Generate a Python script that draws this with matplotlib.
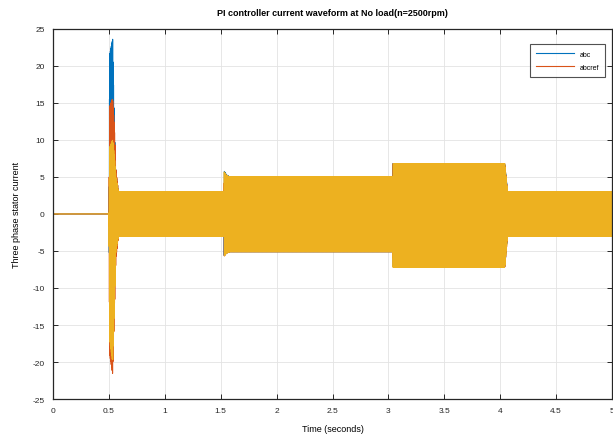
import numpy as np
import matplotlib.pyplot as plt

plt.rcParams['font.family'] = ['Liberation Sans', 'DejaVu Sans']
plt.rcParams['axes.unicode_minus'] = False

# carrier frequency used for drawing the phase currents (Hz)
f_elec = 250.0

# envelope breakpoints of the stator currents (seconds)
env_t = [0.0, 0.4999, 0.5, 0.507, 0.533, 0.548, 0.562, 0.585,
         1.53, 1.531, 1.55, 1.58, 3.04, 3.041, 4.04, 4.065, 5.0]

# upper / lower envelopes per phase (A)
up_a = [0, 0, 0, 21.5, 23.6, 12.0, 5.5, 3.0,
        3.0, 5.8, 5.3, 5.0, 5.0, 6.8, 6.8, 3.0, 3.0]
lo_a = [0, 0, 0, -12.0, -14.0, -8.0, -4.5, -3.0,
        -3.0, -5.6, -5.3, -5.1, -5.1, -7.1, -7.1, -3.0, -3.0]
up_b = [0, 0, 0, 14.5, 15.6, 12.0, 6.0, 3.0,
        3.0, 5.6, 5.2, 5.0, 5.0, 6.8, 6.8, 3.0, 3.0]
lo_b = [0, 0, 0, -19.0, -21.6, -14.0, -6.0, -3.0,
        -3.0, -5.7, -5.3, -5.1, -5.1, -7.2, -7.2, -3.0, -3.0]
up_c = [0, 0, 0, 9.0, 10.0, 8.0, 5.0, 3.0,
        3.0, 5.7, 5.2, 5.0, 5.0, 6.8, 6.8, 3.0, 3.0]
lo_c = [0, 0, 0, -17.0, -20.0, -13.0, -5.0, -3.0,
        -3.0, -5.7, -5.3, -5.1, -5.1, -7.2, -7.2, -3.0, -3.0]

labels = ['abc', 'abcref']
colors = ['#0072BD', '#D95319', '#EDB120']

t = np.linspace(0, 5, 400001)


def phase_current(up, lo, shift):
    hi = np.interp(t, env_t, up)
    low = np.interp(t, env_t, lo)
    mid = (hi + low) / 2
    half = (hi - low) / 2
    return mid + half * np.sin(2 * np.pi * f_elec * t - shift)


currents = [
    phase_current(up_a, lo_a, 0.0),
    phase_current(up_b, lo_b, 2 * np.pi / 3),
    phase_current(up_c, lo_c, 4 * np.pi / 3),
]

fig = plt.figure(figsize=(6.13, 4.39), dpi=100)
ax = fig.add_axes([0.0865, 0.0888, 0.912, 0.843])

for i, (cur, col) in enumerate(zip(currents, colors)):
    ax.plot(t, cur, color=col, linewidth=0.8,
            label=labels[i] if i < len(labels) else None)

ax.set_xlim(0, 5)
ax.set_ylim(-25, 25)
ax.set_xticks(np.arange(0, 5.01, 0.5))
ax.set_xticklabels(['0', '0.5', '1', '1.5', '2', '2.5', '3', '3.5', '4', '4.5', '5'])
ax.set_yticks(np.arange(-25, 26, 5))
ax.grid(True, color='#e3e3e3', linewidth=0.6)
ax.set_axisbelow(True)
ax.tick_params(direction='in', length=3.5, width=0.7, labelsize=6,
               top=True, right=True, colors='#262626', pad=6)
for sp in ax.spines.values():
    sp.set_linewidth(0.9)
    sp.set_color('#262626')

ax.set_title('PI controller current waveform at No load(n=2500rpm)',
             fontsize=6.5, fontweight='bold', pad=10)
ax.set_xlabel('Time (seconds)', fontsize=6.5, labelpad=7)
ax.set_ylabel('Three phase stator current', fontsize=6.5, labelpad=8)

leg = ax.legend(loc='upper right', bbox_to_anchor=(0.994, 0.968), fontsize=5,
                handlelength=5.5, frameon=True, fancybox=False,
                edgecolor='#262626', borderpad=0.9, labelspacing=0.9)
leg.get_frame().set_linewidth(0.8)

fig.savefig('out.png', dpi=100)
